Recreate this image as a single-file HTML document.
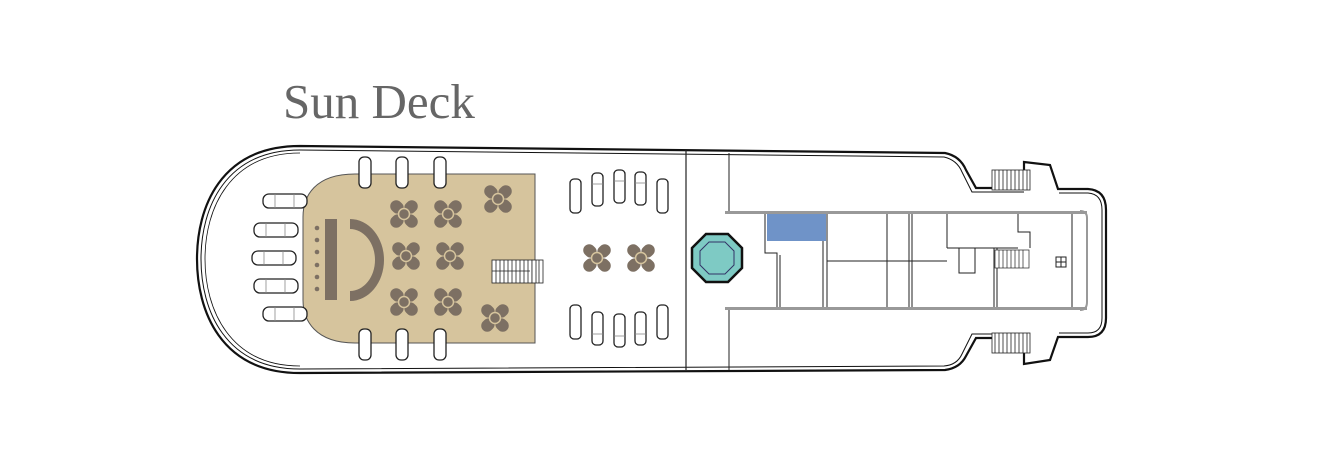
<!DOCTYPE html>
<html><head><style>
html,body{margin:0;padding:0;background:#fff;width:1332px;height:466px;overflow:hidden}
</style></head><body>
<svg width="1332" height="466" viewBox="0 0 1332 466" xmlns="http://www.w3.org/2000/svg">
<defs>
<g id="clover" fill="#7d7063">
  <rect x="-17" y="-6" width="14" height="12" rx="6" transform="rotate(45)"/>
  <rect x="3" y="-6" width="14" height="12" rx="6" transform="rotate(45)"/>
  <rect x="-17" y="-6" width="14" height="12" rx="6" transform="rotate(-45)"/>
  <rect x="3" y="-6" width="14" height="12" rx="6" transform="rotate(-45)"/>
  <circle r="5.5" stroke="#d6c49d" stroke-width="1.5"/>
</g>
<g id="vl"><rect x="0" y="0" width="11" height="33" rx="4" fill="#fff" stroke="#222" stroke-width="1.3"/><line x1="0" y1="11" x2="11" y2="11" stroke="#888" stroke-width="0.8"/></g>
<g id="hl"><rect x="0" y="0" width="44" height="14" rx="6" fill="#fff" stroke="#222" stroke-width="1.3"/><line x1="12" y1="0" x2="12" y2="14" stroke="#888" stroke-width="0.8"/><line x1="31" y1="0" x2="31" y2="14" stroke="#888" stroke-width="0.8"/></g>
<g id="stairs" stroke="#222" stroke-width="0.8" fill="#fff">
  <rect x="0" y="0" width="38" height="20"/>
  <path d="M3 0V20M7 0V20M11 0V20M15 0V20M19 0V20M23 0V20M27 0V20M31 0V20M35 0V20" />
</g>
</defs>
<text x="283" y="118" font-family="Liberation Serif, serif" font-size="49" fill="#666">Sun Deck</text>

<!-- hull -->
<g fill="none" stroke="#111">
<path d="M300 146 L945 153 Q960 156 966 170 L976 188 L1024 188 L1024 162 L1050 165 L1058 189 L1088 189 Q1106 190 1106 210 L1106 318 Q1106 337 1088 337 L1058 337 L1050 360 L1024 364 L1024 338 L976 338 L966 356 Q960 368 945 370 L300 373 C 220 373 197 310 197 259 C 197 208 220 146 300 146 Z" stroke-width="2.2"/>
<path d="M1024 192 L972 192 L962 172 Q957 160 944 157 L300 150 C 225 150 201 208 201 259 C 201 310 225 369 300 369 L944 366 Q957 365 962 354 L972 334 L1024 334" stroke-width="1"/>
<path d="M1059 193 L1088 193 Q1102 194 1102 210 L1102 318 Q1102 333 1088 333 L1059 333" stroke-width="1"/>
<path d="M300 153 C 230 153 205 208 205 259 C 205 310 230 366 300 366" stroke-width="0.8"/>
</g>
<use href="#stairs" x="992" y="170"/>
<use href="#stairs" x="992" y="333"/>

<!-- dividers -->
<line x1="686" y1="150" x2="686" y2="370" stroke="#222" stroke-width="1.2"/>
<line x1="729" y1="153" x2="729" y2="212" stroke="#222" stroke-width="1"/>
<line x1="729" y1="309" x2="729" y2="370" stroke="#222" stroke-width="1"/>

<!-- corridor -->
<g stroke="#222" fill="none" stroke-width="1">
<rect x="725" y="211" width="362" height="3" fill="#999" stroke="none"/>
<rect x="725" y="307" width="362" height="3" fill="#999" stroke="none"/>
<path d="M1080 211 Q1087 211 1087 218 L1087 302 Q1087 310 1080 310" stroke="#999" stroke-width="2"/>
<path d="M1072 214 V307"/>
<path d="M765 214 V253 H777 V307 M780 255 V307 M823 241 V307 M827 214 V307 M827 261 H947 M887 214 V307 M909 214 V307 M912 214 V307 M947 214 V248 M947 248 H1018 M994 248 V307 M997 248 V307 M959 248 V273 H975 V248 M1018 214 V232 H1030 V248"/>
</g>
<rect x="767" y="214" width="59" height="27" fill="#6f93c8"/>
<g stroke="#222" stroke-width="0.7" fill="#fff"><rect x="995" y="250" width="34" height="18"/><path d="M999 250V268M1003 250V268M1007 250V268M1011 250V268M1015 250V268M1019 250V268M1023 250V268"/></g>
<rect x="1056" y="257" width="10" height="10" fill="none" stroke="#222"/><path d="M1056 262H1066M1061 257V267" stroke="#222"/>

<!-- hot tub -->
<polygon points="706,234 728,234 742,248 742,268 728,282 706,282 692,268 692,248" fill="#7ecac4" stroke="#111" stroke-width="2.5"/>
<polygon points="709,242 725,242 734,251 734,265 725,274 709,274 700,265 700,251" fill="#7ecac4" stroke="#336" stroke-width="1"/>

<!-- tan lounge -->
<path d="M355 174 L535 174 L535 343 L355 343 C 315 343 303 320 303 300 L303 217 C 303 196 315 174 355 174 Z" fill="#d6c49d" stroke="#555" stroke-width="1"/>
<rect x="325" y="219" width="12" height="81" fill="#7d7063"/>
<path d="M350 219 A 34 41 0 0 1 350 301 L350 291 A 25 31 0 0 0 350 229 Z" fill="#7d7063"/>
<g fill="#7d7063"><circle cx="317" cy="228" r="2.3"/><circle cx="317" cy="240" r="2.3"/><circle cx="317" cy="252" r="2.3"/><circle cx="317" cy="265" r="2.3"/><circle cx="317" cy="277" r="2.3"/><circle cx="317" cy="289" r="2.3"/></g>
<use href="#clover" x="404" y="214"/><use href="#clover" x="448" y="214"/>
<use href="#clover" x="406" y="256"/><use href="#clover" x="450" y="256"/>
<use href="#clover" x="404" y="302"/><use href="#clover" x="448" y="302"/>
<use href="#clover" x="498" y="199"/><use href="#clover" x="495" y="318"/>
<use href="#clover" x="597" y="258"/><use href="#clover" x="641" y="258"/>
<g stroke="#222" stroke-width="0.8" fill="#fff"><rect x="492" y="260" width="40" height="23"/><rect x="532" y="260" width="11" height="23"/><path d="M496 260V283M500 260V283M504 260V283M508 260V283M512 260V283M516 260V283M520 260V283M524 260V283M528 260V283M536 260V283M539 260V283M492 271H530"/></g>

<!-- loungers around tan -->
<g fill="#fff" stroke="#222" stroke-width="1.3">
<rect x="359" y="157" width="12" height="31" rx="5"/><rect x="396" y="157" width="12" height="31" rx="5"/><rect x="434" y="157" width="12" height="31" rx="5"/>
<rect x="359" y="329" width="12" height="31" rx="5"/><rect x="396" y="329" width="12" height="31" rx="5"/><rect x="434" y="329" width="12" height="31" rx="5"/>
</g>
<use href="#hl" x="263" y="194"/><use href="#hl" x="254" y="223"/><use href="#hl" x="252" y="251"/><use href="#hl" x="254" y="279"/><use href="#hl" x="263" y="307"/>

<!-- mid loungers -->
<g fill="#fff" stroke="#222" stroke-width="1.3">
<rect x="570" y="179" width="11" height="34" rx="4"/><rect x="657" y="179" width="11" height="34" rx="4"/>
<rect x="570" y="305" width="11" height="34" rx="4"/><rect x="657" y="305" width="11" height="34" rx="4"/>
</g>
<use href="#vl" x="592" y="173"/><use href="#vl" x="614" y="170"/><use href="#vl" x="635" y="172"/>
<g transform="translate(0,659) scale(1,-1)"><use href="#vl" x="592" y="314"/><use href="#vl" x="614" y="312"/><use href="#vl" x="635" y="314"/></g>
</svg>
</body></html>
